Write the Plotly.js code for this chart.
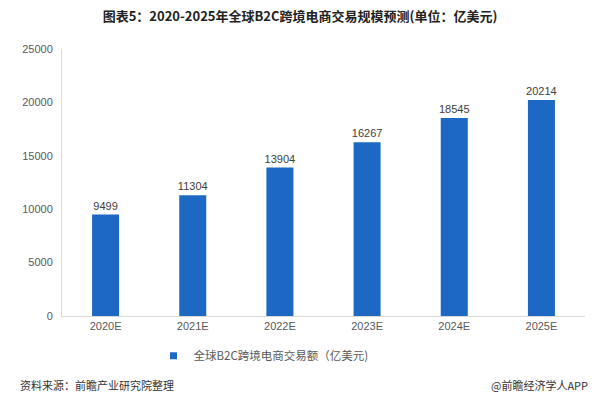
<!DOCTYPE html>
<html>
<head>
<meta charset="utf-8">
<script src="https://cdn.plot.ly/plotly-3.0.1.min.js"></script>
<style>html,body{margin:0;padding:0;background:#fff;}#chart{width:600px;height:399px;}</style>
</head>
<body>
<div id="chart"></div>
<script>
const categories = ["2020E", "2021E", "2022E", "2023E", "2024E", "2025E"];
const values = [9499, 11304, 13904, 16267, 18545, 20214];
const yTicks = [0, 5000, 10000, 15000, 20000, 25000];
const seriesName = "全球B2C跨境电商交易额（亿美元)";
const titleText = "图表5：2020-2025年全球B2C跨境电商交易规模预测(单位：亿美元)";
const sourceText = "资料来源：前瞻产业研究院整理";
const brandText = "@前瞻经济学人APP";

const font = "'Liberation Sans', 'Noto Sans CJK SC', sans-serif";
const barColor = "#1c68c3";

const trace = {
  type: "bar",
  x: categories,
  y: values,
  name: seriesName,
  marker: {color: barColor},
  text: values.map(String),
  textposition: "outside",
  constraintext: "none",
  textfont: {family: font, size: 11, color: "#404040"},
  cliponaxis: false,
  showlegend: false
};

// legend-only entry with a small square key, as in the original
const legendKey = {
  type: "scatter",
  mode: "markers",
  x: [null], y: [null],
  name: seriesName,
  marker: {symbol: "square", size: 7, color: barColor},
  showlegend: true,
  hoverinfo: "skip"
};

const layout = {
  width: 600, height: 399,
  margin: {l: 62, r: 15, t: 49, b: 83},
  paper_bgcolor: "#fff", plot_bgcolor: "#fff",
  font: {family: font, size: 11, color: "#595959"},
  title: {
    text: "<b>" + titleText + "</b>",
    x: 0.5, xanchor: "center", y: 0.958, yanchor: "middle",
    font: {family: "'Noto Sans CJK SC', sans-serif", size: 13, color: "#222"}
  },
  bargap: 0.69,
  xaxis: {
    type: "category",
    showline: true, linecolor: "#d9d9d9", linewidth: 1,
    ticks: "", showgrid: false,
    tickfont: {family: font, size: 11, color: "#595959"}
  },
  yaxis: {
    range: [0, 25000],
    tickvals: yTicks,
    ticktext: yTicks.map(String),
    showline: true, linecolor: "#d9d9d9", linewidth: 1,
    showgrid: false, zeroline: false, ticks: "",
    ticklabelstandoff: 6,
    tickfont: {family: font, size: 11, color: "#595959"}
  },
  legend: {
    orientation: "h", x: 0.175, xanchor: "left", y: -0.095, yanchor: "top",
    font: {family: "'Noto Sans CJK SC', sans-serif", size: 11.5, color: "#595959"},
    itemwidth: 30
  },
  annotations: [
    {text: sourceText, xref: "paper", yref: "paper", x: -0.085, xanchor: "left",
     y: -0.26, yanchor: "middle", showarrow: false,
     font: {family: "'Noto Sans CJK SC', sans-serif", size: 11, color: "#333"}},
    {text: brandText, xref: "paper", yref: "paper", x: 1.01, xanchor: "right",
     y: -0.26, yanchor: "middle", showarrow: false,
     font: {family: "'Noto Sans CJK SC', sans-serif", size: 11, color: "#333"}}
  ]
};

Plotly.newPlot("chart", [trace, legendKey], layout, {displayModeBar: false, staticPlot: true});
</script>
</body>
</html>
